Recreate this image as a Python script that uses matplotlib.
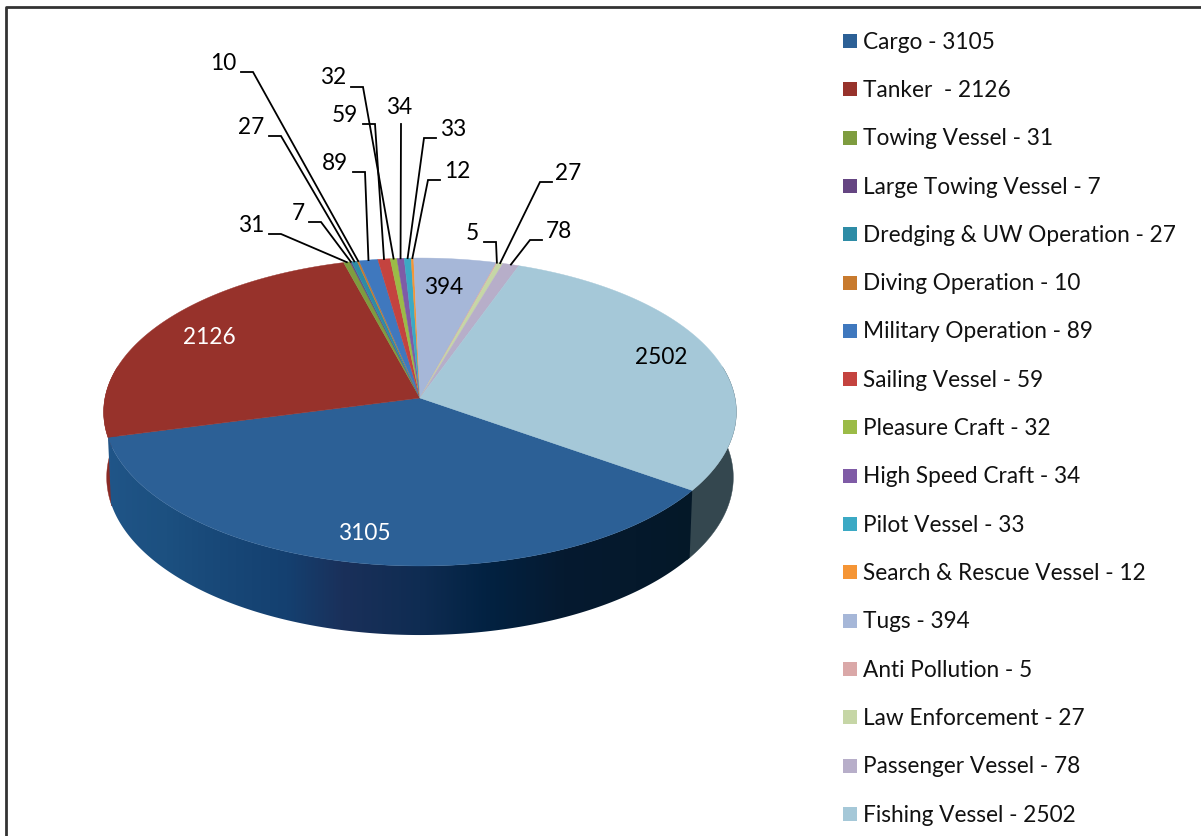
import numpy as np
import matplotlib as mpl
import matplotlib.pyplot as plt
from matplotlib.patches import Polygon, Rectangle

mpl.rcParams['font.family'] = ['Lato', 'DejaVu Sans']

names = ['Cargo', 'Tanker ', 'Towing Vessel', 'Large Towing Vessel', 'Dredging & UW Operation', 'Diving Operation',
         'Military Operation', 'Sailing Vessel', 'Pleasure Craft', 'High Speed Craft', 'Pilot Vessel',
         'Search & Rescue Vessel', 'Tugs', 'Anti Pollution', 'Law Enforcement', 'Passenger Vessel', 'Fishing Vessel']
values = [3105, 2126, 31, 7, 27, 10, 89, 59, 32, 34, 33, 12, 394, 5, 27, 78, 2502]
colors = ['#2C6096', '#97322B', '#7E9C3F', '#654582', '#2E8CA6', '#C87A2E', '#3F78BE', '#C4433F', '#9BBB47',
          '#7F5BA6', '#3BA9C4', '#F59535', '#A6B7D8', '#DAA8A8', '#C6D6A6', '#B7AEC9', '#A5C8D8']

# label text position, elbow start and elbow end of the leader, in pixels of the figure
outer_labels = {2: ((251, 226), (269, 234), (281, 234)),
                3: ((298, 214), (309, 222), (321, 222)),
                4: ((251, 128), (269, 136), (281, 136)),
                5: ((223, 64), (241, 72), (253, 72)),
                6: ((335, 164), (353, 172), (365, 172)),
                7: ((345, 116), (363, 124), (375, 124)),
                8: ((333, 78), (351, 87), (363, 87)),
                9: ((399, 108), (401, 124), (401, 124)),
                10: ((453, 130), (436, 138), (424, 138)),
                11: ((457, 172), (440, 180), (428, 180)),
                13: ((472, 234), (484, 242), (496, 242)),
                14: ((568, 173), (552, 182), (540, 182)),
                15: ((559, 232), (542, 240), (530, 240))}
inner_labels = {0: ((364, 534), 'white'), 1: ((209, 338), 'white'), 12: ((444, 288), 'black'), 16: ((661, 357), 'black')}

# side shading of the big cargo slice, by angle
cargo_angles = [-165, -140, -113, -103, -90, -79, -65, -35]
cargo_shade = ['#205588', '#1C5080', '#144070', '#1A305A', '#0F2C52', '#022242', '#061A30', '#041828']
fishing_side = '#34474F'
tanker_side = '#8A2A25'

label_size = 16.3
start_angle = -35.0
persp = 0.0909


def rim(angle, cx=420., cy=398., rx=315., ry=152.7):
    # circle seen in perspective, the back is smaller than the front
    a = np.radians(angle)
    den = 1 + persp * np.sin(a)
    return cx + rx * np.cos(a) / den, cy - ry * np.sin(a) / den


def rim_bottom(angle):
    return rim(angle, cy=463., rx=312., ry=156.4)


def side_outline(a0, a1):
    th = np.linspace(a0, a1, 200)
    top = np.column_stack(rim(th))
    bottom = np.column_stack(rim_bottom(th))
    return np.vstack([top, bottom[::-1]])


fig = plt.figure(figsize=(12.01, 8.36), dpi=100)
ax = fig.add_axes([0, 0, 1, 1])
ax.set_xlim(0, 1201)
ax.set_ylim(836, 0)
ax.axis('off')

sweep = np.array(values) / np.sum(values) * 360
edges = start_angle - np.concatenate([[0], np.cumsum(sweep)])

# side of the pie
ax.add_patch(Polygon(side_outline(12, start_angle - 1), closed=True, facecolor=fishing_side, edgecolor=fishing_side,
                     lw=0.3))
ax.add_patch(Polygon(side_outline(edges[1] + 1, -192), closed=True, facecolor=tanker_side, edgecolor=tanker_side,
                     lw=0.3))

cargo_rgb = np.array([mpl.colors.to_rgb(c) for c in cargo_shade])
th = np.linspace(edges[1], edges[0], 400)
band_x = rim_bottom(th)[0]
px = np.arange(90, 720)
band_angle = np.interp(px, band_x, th)
band = np.stack([np.interp(band_angle, cargo_angles, cargo_rgb[:, k]) for k in range(3)], axis=-1)[np.newaxis, :, :]
cargo_patch = Polygon(side_outline(edges[0], edges[1]), closed=True, facecolor='none', edgecolor='none')
ax.add_patch(cargo_patch)
im = ax.imshow(band, extent=(90, 720, 700, 400), aspect='auto', interpolation='bilinear', zorder=1)
im.set_clip_path(cargo_patch)
ax.set_xlim(0, 1201)
ax.set_ylim(836, 0)

# top of the pie
for i, c in enumerate(colors):
    th = np.linspace(edges[i], edges[i + 1], max(int(sweep[i]) * 2, 3))
    x, y = rim(th)
    pts = np.vstack([[420, 398], np.column_stack([x, y])])
    ax.add_patch(Polygon(pts, closed=True, facecolor=c, edgecolor=c, lw=0.3, zorder=2))

for i, (pos, col) in inner_labels.items():
    ax.text(pos[0], pos[1], str(values[i]), color=col, fontsize=label_size, ha='center', va='center', zorder=4)

for i, (pos, e0, e1) in outer_labels.items():
    tip = rim((edges[i] + edges[i + 1]) / 2)
    ax.plot([e0[0], e1[0], tip[0]], [e0[1], e1[1], tip[1]], color='black', lw=1.3, solid_joinstyle='miter', zorder=3)
    ax.text(pos[0], pos[1], str(values[i]), color='black', fontsize=label_size, ha='center', va='center', zorder=4)

# legend
for i, (n, v) in enumerate(zip(names, values)):
    yc = 41 + i * 48.3
    ax.add_patch(Rectangle((843, yc - 7), 14, 14, facecolor=colors[i], edgecolor='none'))
    ax.text(863, yc + 1.2, '%s - %d' % (n, v), color='#111111', fontsize=label_size, ha='left', va='center')

# frame
ax.plot([5.5, 5.5, 1201], [836, 6.5, 6.5], color='#333333', lw=2)

fig.savefig('out.png', dpi=100)
